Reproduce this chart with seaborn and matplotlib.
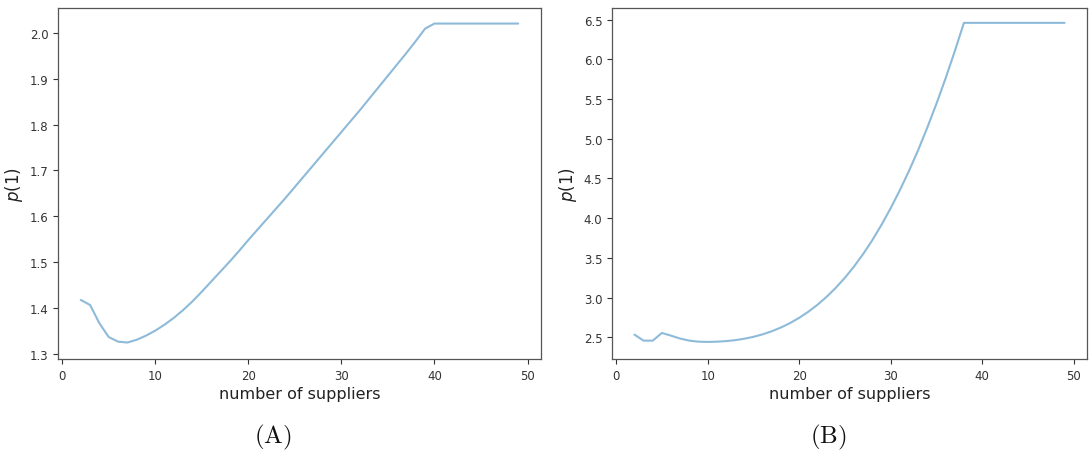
import matplotlib
matplotlib.use("Agg")
import matplotlib.pyplot as plt
import seaborn as sns
import pandas as pd

suppliers = [2, 3, 4, 5, 6, 7, 8, 9, 10, 11,
             12, 13, 14, 15, 16, 17, 18, 19, 20, 21,
             22, 23, 24, 25, 26, 27, 28, 29, 30, 31,
             32, 33, 34, 35, 36, 37, 38, 39, 40, 41,
             42, 43, 44, 45, 46, 47, 48, 49]

p1_a = [1.417, 1.406, 1.366, 1.336, 1.326, 1.324, 1.330, 1.339, 1.350, 1.363,   # 2-11
        1.378, 1.395, 1.414, 1.435, 1.457, 1.479, 1.501, 1.524, 1.548, 1.571,   # 12-21
        1.594, 1.617, 1.640, 1.664, 1.688, 1.712, 1.736, 1.760, 1.784, 1.808,   # 22-31
        1.832, 1.857, 1.882, 1.907, 1.932, 1.957, 1.983, 2.010, 2.021, 2.021,   # 32-41
        2.021, 2.021, 2.021, 2.021, 2.021, 2.021, 2.021, 2.021]                 # 42-49

p1_b = [2.533, 2.457, 2.457, 2.554, 2.520, 2.483, 2.457, 2.444, 2.441, 2.444,   # 2-11
        2.451, 2.463, 2.481, 2.505, 2.536, 2.575, 2.622, 2.678, 2.744, 2.821,   # 12-21
        2.909, 3.009, 3.122, 3.249, 3.391, 3.549, 3.724, 3.916, 4.125, 4.351,   # 22-31
        4.594, 4.856, 5.139, 5.440, 5.760, 6.100, 6.458, 6.458, 6.458, 6.458,   # 32-41
        6.458, 6.458, 6.458, 6.458, 6.458, 6.458, 6.458, 6.458]                 # 42-49

panel_labels = ["(A)", "(B)"]
xlabel = "number of suppliers"
ylabel = r"$p(1)$"
yticks_a = [1.3, 1.4, 1.5, 1.6, 1.7, 1.8, 1.9, 2.0]
yticks_b = [2.5, 3.0, 3.5, 4.0, 4.5, 5.0, 5.5, 6.0, 6.5]
xticks = [0, 10, 20, 30, 40, 50]

sns.set_style("ticks")
plt.rcParams["mathtext.fontset"] = "dejavusans"
plt.rcParams["font.family"] = ["DejaVu Sans"]

fig = plt.figure(figsize=(10.91, 4.52), dpi=100)
ax_a = fig.add_axes([58 / 1091, 1 - 360 / 452, 483 / 1091, 351 / 452])
ax_b = fig.add_axes([612 / 1091, 1 - 360 / 452, 475 / 1091, 351 / 452])

line_color = "#1f77b4"
for ax, vals in [(ax_a, p1_a), (ax_b, p1_b)]:
    df = pd.DataFrame({"n": suppliers, "p": vals})
    sns.lineplot(data=df, x="n", y="p", ax=ax, color=line_color, alpha=0.5, linewidth=1.5)
    ax.set_xlabel(xlabel, fontsize=11.5, color="#222222", labelpad=3)
    ax.set_ylabel(ylabel, fontsize=12, color="#222222", labelpad=3)
    ax.tick_params(axis="both", labelsize=8.5, colors="#333333", length=3.5, width=0.8)
    for s in ax.spines.values():
        s.set_visible(True)
        s.set_color("#555555")
        s.set_linewidth(0.9)
    ax.set_xticks(xticks)
    ax.set_xlim(-0.45, 51.45)

ax_a.set_yticks(yticks_a)
ax_a.set_ylim(1.288, 2.055)
ax_b.set_yticks(yticks_b)
ax_b.set_ylim(2.226, 6.645)

fig.text(273 / 1091, 1 - 437 / 452, r"$\mathrm{" + panel_labels[0] + "}$", ha="center", va="center",
         fontsize=18, math_fontfamily="cm", color="#111111")
fig.text(828 / 1091, 1 - 437 / 452, r"$\mathrm{" + panel_labels[1] + "}$", ha="center", va="center",
         fontsize=18, math_fontfamily="cm", color="#111111")

fig.savefig("out.png", dpi=100, facecolor="white")
